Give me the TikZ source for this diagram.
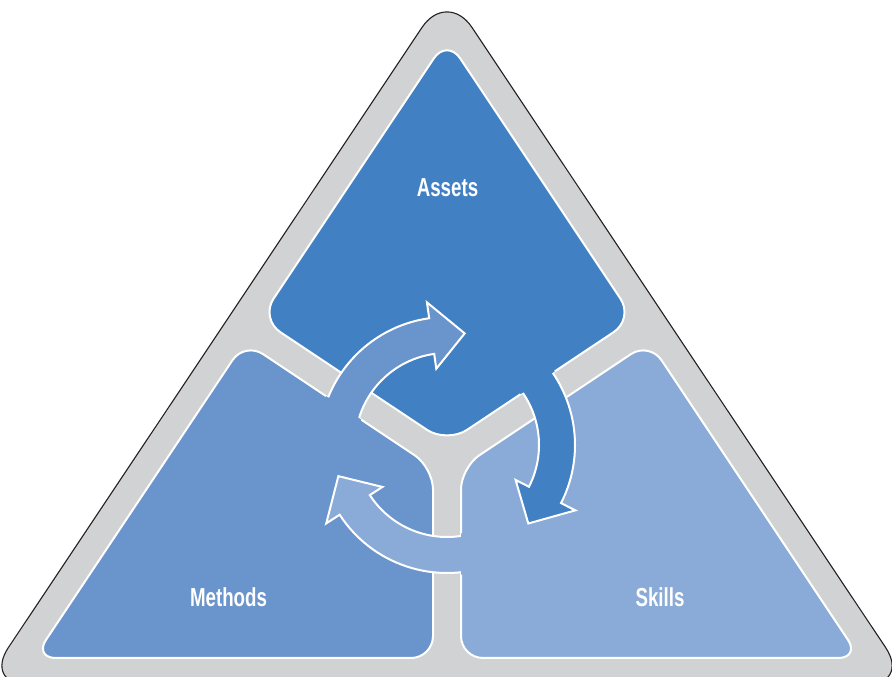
\documentclass[tikz,border=0pt]{standalone}
\usepackage{fontspec}
\newfontfamily\labelfont[FakeStretch=0.72]{Liberation Sans}
\usepackage{tikz}
\usetikzlibrary{calc}
\definecolor{assetsblue}{RGB}{65,128,195}
\definecolor{methodsblue}{RGB}{106,148,204}
\definecolor{skillsblue}{RGB}{138,171,215}
\definecolor{bandgray}{RGB}{209,210,212}
\definecolor{rimline}{RGB}{35,31,32}
\tikzstyle{rim} = [draw=rimline, fill=bandgray, line width=1.1pt, rounded corners=45pt]
\tikzstyle{region} = [draw=white, line width=2pt]
\tikzstyle{cyclearrow} = [draw=white, line width=2pt]
\tikzstyle{regionlabel} = [text=white, anchor=base, font=\labelfont\bfseries\fontsize{26}{30}\selectfont]
\newcommand{\assetsshape}{(a-top) -- (a-right) -- (a-bottom) -- (a-left) -- cycle}
\newcommand{\methodsshape}{(m-top) -- (m-inner) -- (m-right) -- (m-left) -- cycle}
\newcommand{\skillsshape}{(s-top) -- (s-inner) -- (s-left) -- (s-right) -- cycle}
% #1 tail angle, #2 head angle
\newcommand{\cyclepath}[2]{($(hub)+(#1:128pt)$) arc[start angle=#1, end angle=#2, radius=128pt]
  -- ($(hub)+(#2:144pt)$) -- ($(hub)+(#2-17:113pt)$) -- ($(hub)+(#2:77pt)$)
  -- ($(hub)+(#2:92pt)$) arc[start angle=#2, end angle=#1, radius=92pt] -- cycle}

\begin{document}
\begin{tikzpicture}[x=1pt, y=1pt]
    % Frame
    \useasboundingbox (0,0) rectangle (892,677);
    \clip (0,0) rectangle (892,677);
    % Corners
    \coordinate (hub) at (447,232);
    \coordinate (a-top) at (447,638.4);
    \coordinate (a-right) at (633.8,358.3);
    \coordinate (a-bottom) at (447,233.8);
    \coordinate (a-left) at (260.2,358.3);
    \coordinate (m-top) at (244.7,335.1);
    \coordinate (m-inner) at (433,209.5);
    \coordinate (m-right) at (433,19);
    \coordinate (m-left) at (33.9,19);
    \coordinate (s-top) at (649.3,335.1);
    \coordinate (s-inner) at (461,209.5);
    \coordinate (s-left) at (461,19);
    \coordinate (s-right) at (860.1,19);
    % Triangle
    \path [rim] (447,687) -- (910.6,-8) -- (-16.6,-8) -- cycle;
    % Regions
    \path [region, fill=assetsblue, rounded corners=24pt] \assetsshape;
    \path [region, fill=methodsblue, rounded corners=22pt] \methodsshape;
    \path [region, fill=skillsblue, rounded corners=22pt] \skillsshape;
    % Arrows
    \path [cyclearrow, fill=methodsblue] \cyclepath{178}{98};
    \begin{scope}
      \clip [rounded corners=22pt] \methodsshape;
      \path [cyclearrow, fill=methodsblue, draw=methodsblue, line width=5pt] \cyclepath{178}{98};
    \end{scope}
    \path [cyclearrow, fill=skillsblue] \cyclepath{-70}{-147};
    \begin{scope}
      \clip [rounded corners=22pt] \skillsshape;
      \path [cyclearrow, fill=skillsblue, draw=skillsblue, line width=5pt] \cyclepath{-70}{-147};
    \end{scope}
    \path [cyclearrow, fill=assetsblue] \cyclepath{50}{-27};
    \begin{scope}
      \clip [rounded corners=24pt] \assetsshape;
      \path [cyclearrow, fill=assetsblue, draw=assetsblue, line width=5pt] \cyclepath{50}{-27};
    \end{scope}
    % Labels
    \node [regionlabel] (assets) at (447.5,480) {Assets};
    \node [regionlabel] (methods) at (228.5,70) {Methods};
    \node [regionlabel] (skills) at (660,70) {Skills};
\end{tikzpicture}
\end{document}
